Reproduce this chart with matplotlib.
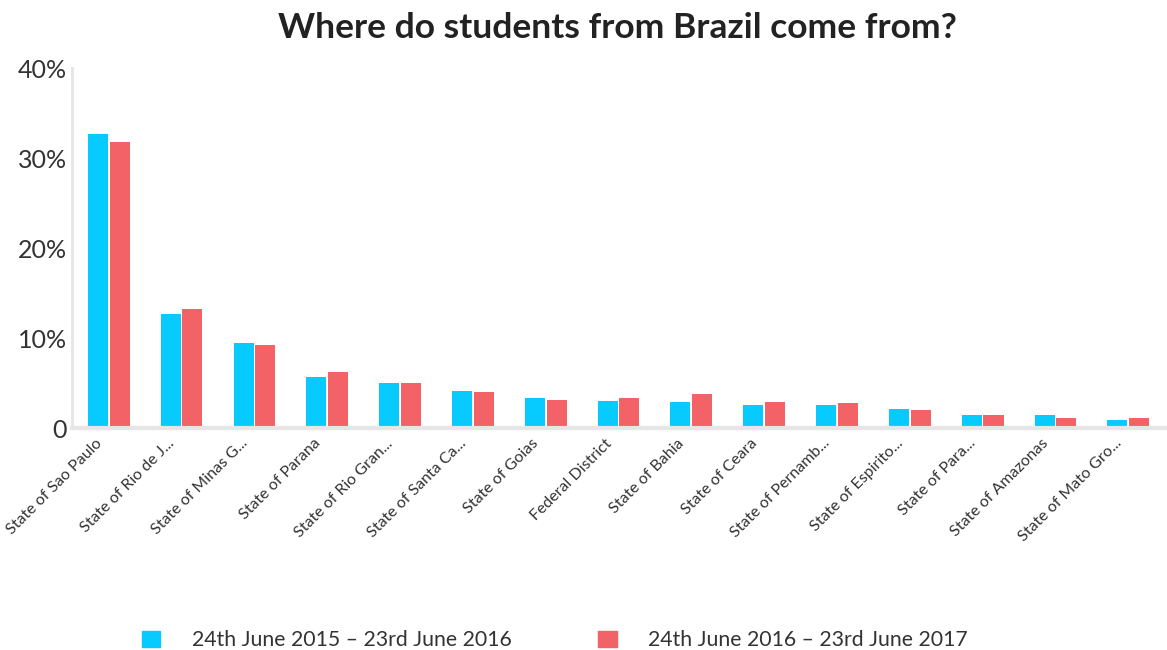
import numpy as np
import matplotlib.pyplot as plt
import matplotlib.transforms as mtransforms
from matplotlib.patches import Patch

plt.rcParams['font.family'] = ['Lato', 'DejaVu Sans']

states = ["State of Sao Paulo", "State of Rio de J...", "State of Minas G...", "State of Parana",
          "State of Rio Gran...", "State of Santa Ca...", "State of Goias", "Federal District",
          "State of Bahia", "State of Ceara", "State of Pernamb...", "State of Espirito...",
          "State of Para...", "State of Amazonas", "State of Mato Gro..."]
period_2016 = [32.7, 12.7, 9.4, 5.7, 5.0, 4.1, 3.3, 3.0, 2.9, 2.6, 2.6, 2.1, 1.4, 1.4, 0.9]
period_2017 = [31.8, 13.2, 9.2, 6.2, 5.0, 4.0, 3.1, 3.3, 3.8, 2.9, 2.8, 2.0, 1.4, 1.15, 1.15]
labels = ["24th June 2015 \u2013 23rd June 2016", "24th June 2016 \u2013 23rd June 2017"]
colors = ["#07CBFF", "#F36266"]

fig = plt.figure(figsize=(11.67, 6.5), dpi=100)
ax = fig.add_axes([0.062, 0.3415, 0.936, 0.5535])

x = np.arange(len(states))
w = 0.275
ax.bar(x - w / 2 - 0.012, period_2016, width=w, color=colors[0])
ax.bar(x + w / 2 + 0.012, period_2017, width=w, color=colors[1])

ax.set_xlim(-0.5, len(states) - 0.5)
ax.set_ylim(0, 40)
ax.set_yticks([0, 10, 20, 30, 40])
ax.set_yticklabels(["0", "10%", "20%", "30%", "40%"], fontsize=18, color="#333333")
ax.set_xticks(x)
ax.set_xticklabels(states, rotation=45, ha="right", rotation_mode="anchor",
                   fontsize=11.5, color="#333333")
ax.tick_params(axis="both", length=0)
ax.tick_params(axis="y", pad=4)
ax.tick_params(axis="x", pad=6)

# nudge the rotated category labels a bit to the left
shift = mtransforms.ScaledTranslation(-14 / 100, 0, fig.dpi_scale_trans)
for lbl in ax.get_xticklabels():
    lbl.set_transform(lbl.get_transform() + shift)

for side in ["top", "right"]:
    ax.spines[side].set_visible(False)
ax.spines["left"].set_color("#E6E6E6")
ax.spines["left"].set_linewidth(2)
ax.spines["bottom"].set_color("#E6E6E6")
ax.spines["bottom"].set_linewidth(3)

fig.suptitle("Where do students from Brazil come from?", fontsize=25.5, fontweight="bold",
             color="#222222", x=0.529, y=0.982)

handles = [Patch(color=c) for c in colors]
fig.legend(handles, labels, loc="lower left", bbox_to_anchor=(0.105, -0.03), ncol=2,
           frameon=False, fontsize=15.3, handlelength=0.85, handleheight=0.85,
           handletextpad=1.5, columnspacing=4.1, labelcolor="#333333")

plt.savefig("out.png", dpi=100)
